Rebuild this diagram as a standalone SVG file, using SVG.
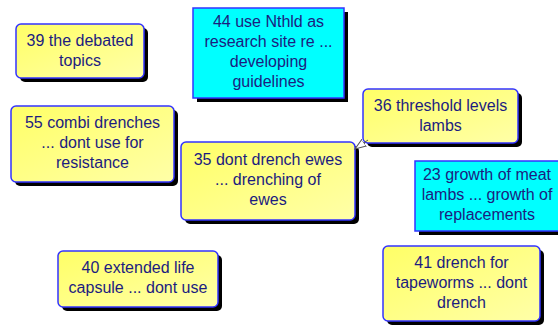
<svg xmlns="http://www.w3.org/2000/svg" width="558" height="325" viewBox="0 0 558 325">
<defs>
<linearGradient id="yg" x1="0" y1="0" x2="1" y2="1">
<stop offset="0" stop-color="#ffff66"/>
<stop offset="1" stop-color="#ffffa8"/>
</linearGradient>
<marker id="ah" markerWidth="14" markerHeight="10" refX="11" refY="5" orient="auto" markerUnits="userSpaceOnUse">
<path d="M0,1 L11,5 L0,9 Z" fill="#ffffff" stroke="#555555" stroke-width="1"/>
</marker>
</defs>
<style>
.sh{fill:#000000}
.y{fill:url(#yg);stroke:#3333ff;stroke-width:1.5}
.c{fill:#00ffff;stroke:#3333ff;stroke-width:1.5}
text{font-family:"Liberation Sans",Arial,sans-serif;font-size:16px;fill:#1c1c80;text-anchor:middle}
</style>
<rect width="558" height="325" fill="#ffffff"/>
<g id="n39">
<rect class="sh" x="20" y="28" width="128" height="54" rx="5"/>
<rect class="y" x="16" y="24" width="128" height="54" rx="5"/>
<text x="80" y="46">39 the debated</text>
<text x="80" y="66">topics</text>
</g>
<g id="n44">
<rect class="sh" x="197" y="12" width="151" height="90"/>
<rect class="c" x="193" y="8" width="151" height="90"/>
<text x="268.5" y="27">44 use Nthld as</text>
<text x="268.5" y="47">research site re ...</text>
<text x="268.5" y="67">developing</text>
<text x="268.5" y="87">guidelines</text>
</g>
<g id="n36">
<rect class="sh" x="367" y="93" width="155" height="54" rx="5"/>
<rect class="y" x="363" y="89" width="155" height="54" rx="5"/>
<text x="440.5" y="111">36 threshold levels</text>
<text x="440.5" y="131">lambs</text>
</g>
<g id="n23">
<rect class="sh" x="419" y="165" width="150" height="70"/>
<rect class="c" x="415" y="161" width="150" height="70"/>
<text x="487" y="180">23 growth of meat</text>
<text x="487" y="200">lambs ... growth of</text>
<text x="487" y="220">replacements</text>
</g>
<g id="n35">
<rect class="sh" x="185" y="146" width="174" height="78" rx="5"/>
<rect class="y" x="181" y="142" width="174" height="78" rx="5"/>
<text x="268" y="165">35 dont drench ewes</text>
<text x="268" y="185">... drenching of</text>
<text x="268" y="205">ewes</text>
</g>
<g id="n55">
<rect class="sh" x="15" y="110" width="163" height="76" rx="5"/>
<rect class="y" x="11" y="106" width="163" height="76" rx="5"/>
<text x="92.5" y="128">55 combi drenches</text>
<text x="92.5" y="148">... dont use for</text>
<text x="92.5" y="168">resistance</text>
</g>
<g id="n40">
<rect class="sh" x="62" y="255" width="160" height="56" rx="5"/>
<rect class="y" x="58" y="251" width="160" height="56" rx="5"/>
<text x="138" y="273">40 extended life</text>
<text x="138" y="293">capsule ... dont use</text>
</g>
<g id="n41">
<rect class="sh" x="387" y="250" width="157" height="75" rx="5"/>
<rect class="y" x="383" y="246" width="157" height="75" rx="5"/>
<text x="461.5" y="268">41 drench for</text>
<text x="461.5" y="288">tapeworms ... dont</text>
<text x="461.5" y="308">drench</text>
</g>
<g id="connectors">
<line x1="368" y1="140" x2="355" y2="149" stroke="#555555" stroke-width="1" marker-end="url(#ah)"/>
</g>
</svg>
